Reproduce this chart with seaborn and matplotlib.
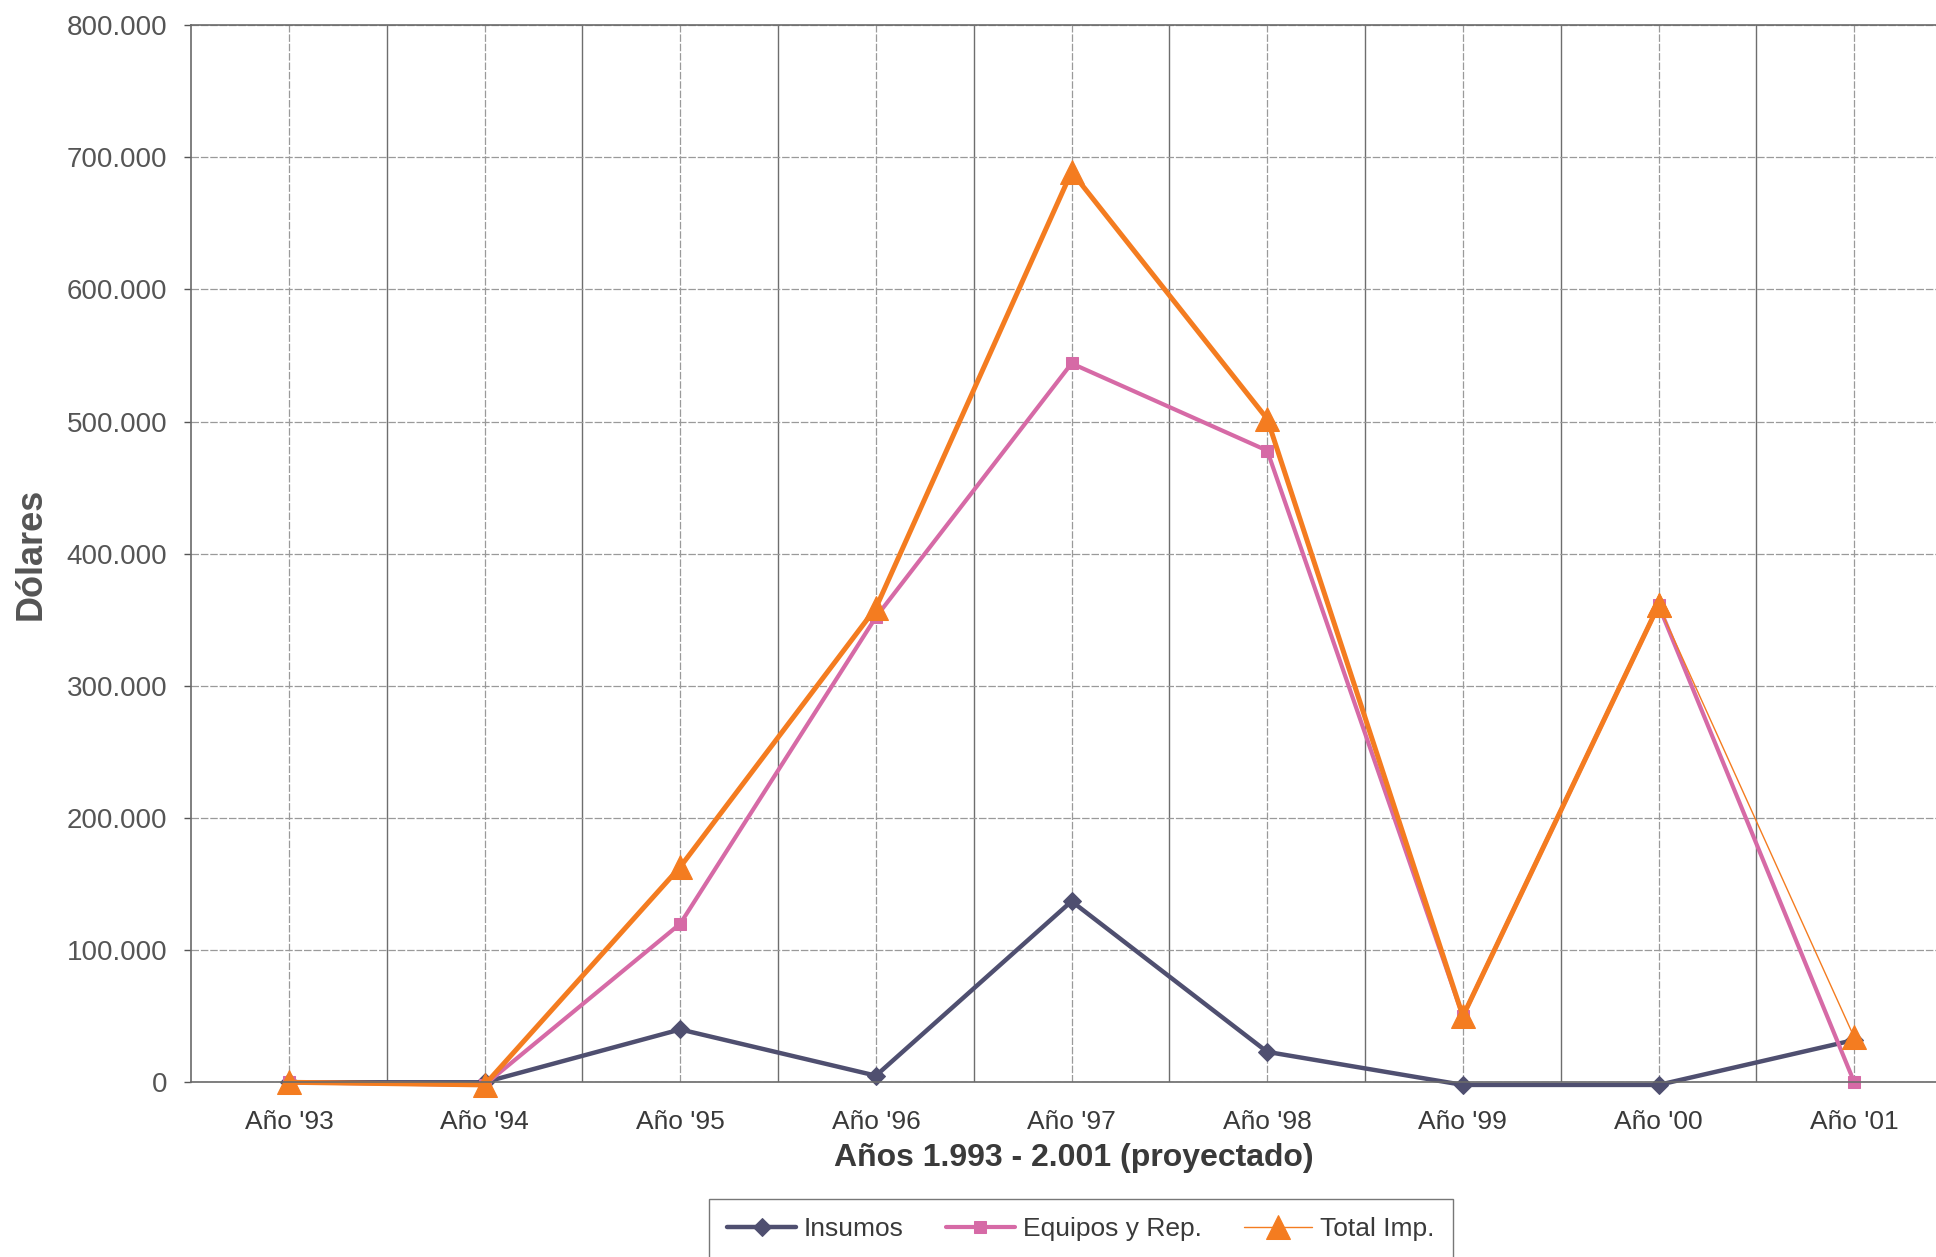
import matplotlib
matplotlib.use("Agg")
import matplotlib.pyplot as plt
import numpy as np
import seaborn as sns
from matplotlib.ticker import FuncFormatter, MultipleLocator

# Data (US dollars)
years = ["Año '93", "Año '94", "Año '95", "Año '96", "Año '97",
         "Año '98", "Año '99", "Año '00", "Año '01"]
insumos = [0, 0, 40000, 5000, 137000, 23000, -2000, -2000, 32000]
equipos = [0, -2000, 120000, 352000, 544000, 478000, 50000, 361000, 0]
total_imp = [0, -2000, 163000, 359000, 689000, 502000, 50000, 361000, 34000]

C_INS = "#4f4f70"
C_EQU = "#d66aa6"
C_TOT = "#f47c20"
TXT = "#3a3a3a"

sns.set_theme(style="white")
plt.rcParams["font.family"] = ["Liberation Sans", "DejaVu Sans"]

fig = plt.figure(figsize=(19.36, 12.57), dpi=100)
ax = fig.add_axes([0.0987, 0.139, 0.9096, 0.841])

x = np.arange(len(years))

sns.lineplot(x=x, y=insumos, ax=ax, color=C_INS, lw=3.2, marker="D",
             markersize=9, markeredgecolor=C_INS, label="Insumos", clip_on=False)
sns.lineplot(x=x, y=equipos, ax=ax, color=C_EQU, lw=3.0, marker="s",
             markersize=9, markeredgecolor=C_EQU, label="Equipos y Rep.", clip_on=False)
# Total: thick line up to '00, thin last segment as in the original
sns.lineplot(x=x[:8], y=total_imp[:8], ax=ax, color=C_TOT, lw=3.6, marker="^",
             markersize=17, markeredgecolor=C_TOT, clip_on=False)
sns.lineplot(x=x[7:], y=total_imp[7:], ax=ax, color=C_TOT, lw=1.0, marker="^",
             markersize=17, markeredgecolor=C_TOT, label="Total Imp.", clip_on=False)

ax.set_xlim(-0.5, 8.5)
ax.set_ylim(0, 800000)

ax.set_xticks(x)
ax.set_xticklabels(years)
ax.set_xticks(x[:-1] + 0.5, minor=True)
ax.yaxis.set_major_locator(MultipleLocator(100000))
ax.yaxis.set_major_formatter(FuncFormatter(lambda v, _: f"{v:,.0f}".replace(",", ".")))

ax.tick_params(axis="x", which="major", length=0, pad=20, labelsize=19, labelcolor=TXT)
ax.tick_params(axis="x", which="minor", length=7, width=1, color="#555555", direction="out")
ax.tick_params(axis="y", which="major", length=5, width=1, color="#555555",
               direction="out", pad=12, labelsize=20, labelcolor="#555555")
ax.tick_params(left=True, bottom=True)

ax.grid(True, axis="y", color="#9a9a9a", lw=0.9, ls=(0, (6, 1.5)))
ax.grid(True, axis="x", which="major", color="#9a9a9a", lw=0.9, ls=(0, (6, 1.5)))
ax.grid(True, axis="x", which="minor", color="#6e6e6e", lw=1.0)
ax.set_axisbelow(True)

for side in ["left", "bottom", "top", "right"]:
    ax.spines[side].set_visible(True)
    ax.spines[side].set_color("#6a6a6a")
    ax.spines[side].set_linewidth(1.2)

ax.set_xlabel("Años 1.993 - 2.001 (proyectado)", fontsize=23, fontweight="bold", color=TXT)
ax.set_ylabel("Dólares", fontsize=26, fontweight="bold", color="#555555")
ax.xaxis.set_label_coords(0.501, -0.057)
ax.yaxis.set_label_coords(-0.081, 0.5)

leg = ax.legend(loc="upper center", bbox_to_anchor=(0.5584, 0.057),
                bbox_transform=fig.transFigure, ncol=3, frameon=True, fancybox=False,
                fontsize=19, handlelength=2.6, columnspacing=1.6, borderpad=0.7,
                handletextpad=0.3)
leg.get_frame().set_edgecolor("#555555")
leg.get_frame().set_linewidth(1.0)
for t in leg.get_texts():
    t.set_color(TXT)

fig.savefig("out.png", dpi=100)
